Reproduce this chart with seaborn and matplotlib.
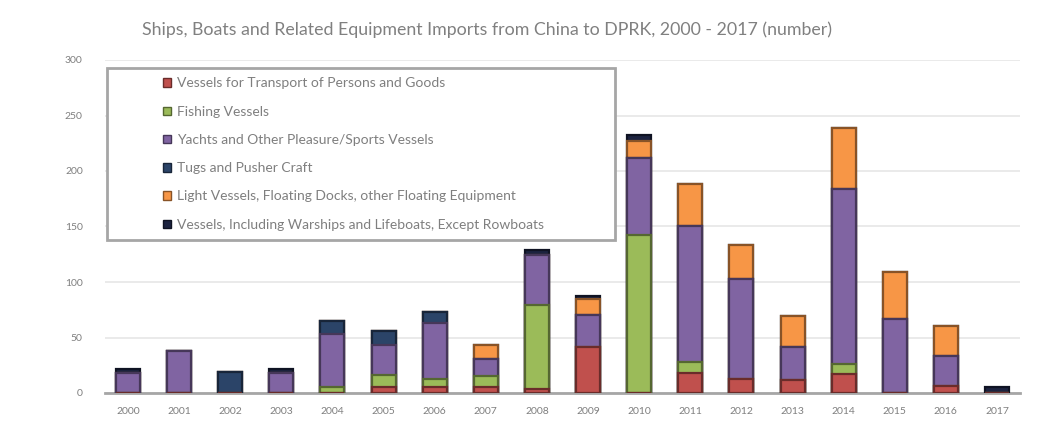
import numpy as np
import pandas as pd
import matplotlib
matplotlib.use("Agg")
import matplotlib.pyplot as plt
import matplotlib.colors as mcolors
from matplotlib.patches import Patch, Rectangle
import seaborn as sns

years = [str(y) for y in range(2000, 2018)]
transport = [0, 0, 0, 0, 0, 5, 5, 5, 4, 41, 0, 18, 13, 12, 17, 0, 6, 0]
fishing = [0, 0, 0, 0, 5, 11, 8, 10, 75, 0, 142, 10, 0, 0, 9, 0, 0, 0]
yachts = [18, 38, 0, 18, 48, 27, 50, 16, 45, 29, 70, 122, 90, 29, 158, 67, 27, 0]
tugs = [0, 0, 19, 0, 12, 13, 10, 0, 0, 0, 0, 0, 0, 0, 0, 0, 0, 0]
light = [0, 0, 0, 0, 0, 0, 0, 12, 0, 15, 15, 38, 30, 28, 55, 42, 27, 0]
other = [4, 0, 0, 4, 0, 0, 0, 0, 5, 2, 5, 0, 0, 0, 0, 0, 0, 5]

series_names = [
    "Vessels for Transport of Persons and Goods",
    "Fishing Vessels",
    "Yachts and Other Pleasure/Sports Vessels",
    "Tugs and Pusher Craft",
    "Light Vessels, Floating Docks, other Floating Equipment",
    "Vessels, Including Warships and Lifeboats, Except Rowboats",
]
series_values = [transport, fishing, yachts, tugs, light, other]
colors = ["#C0504D", "#9BBB59", "#8064A2", "#2B4468", "#F79646", "#1C2340"]

def darker(c, f=0.55):
    r, g, b = mcolors.to_rgb(c)
    return (r * f, g * f, b * f)

sns.set_theme(style="white")
plt.rcParams["font.family"] = ["Lato", "DejaVu Sans"]

fig = plt.figure(figsize=(10.49, 4.30), dpi=100)
ax = fig.add_axes([105 / 1049, 1 - 393 / 430, 915 / 1049, 333 / 430])

cum = np.cumsum(np.array(series_values), axis=0)
df = pd.DataFrame({"year": years})
# draw from top cumulative down so lower segments overlay
for i in range(len(series_values) - 1, -1, -1):
    df["h"] = cum[i]
    sns.barplot(data=df, x="year", y="h", order=years, color=colors[i],
                width=0.47, edgecolor=darker(colors[i]), linewidth=1.6,
                saturation=1, ax=ax, zorder=3)

ax.set_ylim(0, 300)
ax.set_yticks(range(0, 301, 50))
ax.set_xlim(-0.45, len(years) - 0.55)
ax.yaxis.grid(True, color="#e6e6e6", linewidth=1.2, zorder=0)
ax.set_axisbelow(True)
for s in ["left", "right", "top"]:
    ax.spines[s].set_visible(False)
ax.spines["bottom"].set_color("#a6a6a6")
ax.spines["bottom"].set_linewidth(2)
ax.set_xlabel("")
ax.set_ylabel("")
ax.tick_params(axis="both", length=0, labelsize=7.5, colors="#7f7f7f", pad=10)
ax.tick_params(axis="y", pad=16)

fig.text(487 / 1049, 1 - 30 / 430,
         "Ships, Boats and Related Equipment Imports from China to DPRK, 2000 - 2017 (number)",
         ha="center", va="center", fontsize=12.8, color="#808080")

# legend box
rect = Rectangle((0.002, 0.46), 0.555, 0.515, transform=ax.transAxes,
                 facecolor="white", edgecolor="#a6a6a6", linewidth=2, zorder=5)
ax.add_patch(rect)
handles = [Patch(facecolor=c, edgecolor=darker(c), linewidth=1) for c in colors]
leg = ax.legend(handles, series_names, loc="upper left",
                bbox_to_anchor=(0.05, 0.985), frameon=False, fontsize=10,
                labelspacing=1.17, handlelength=0.55, handleheight=0.55,
                handletextpad=0.45, labelcolor="#7f7f7f")
leg.set_zorder(6)

fig.savefig("out.png", dpi=100, facecolor="white")
